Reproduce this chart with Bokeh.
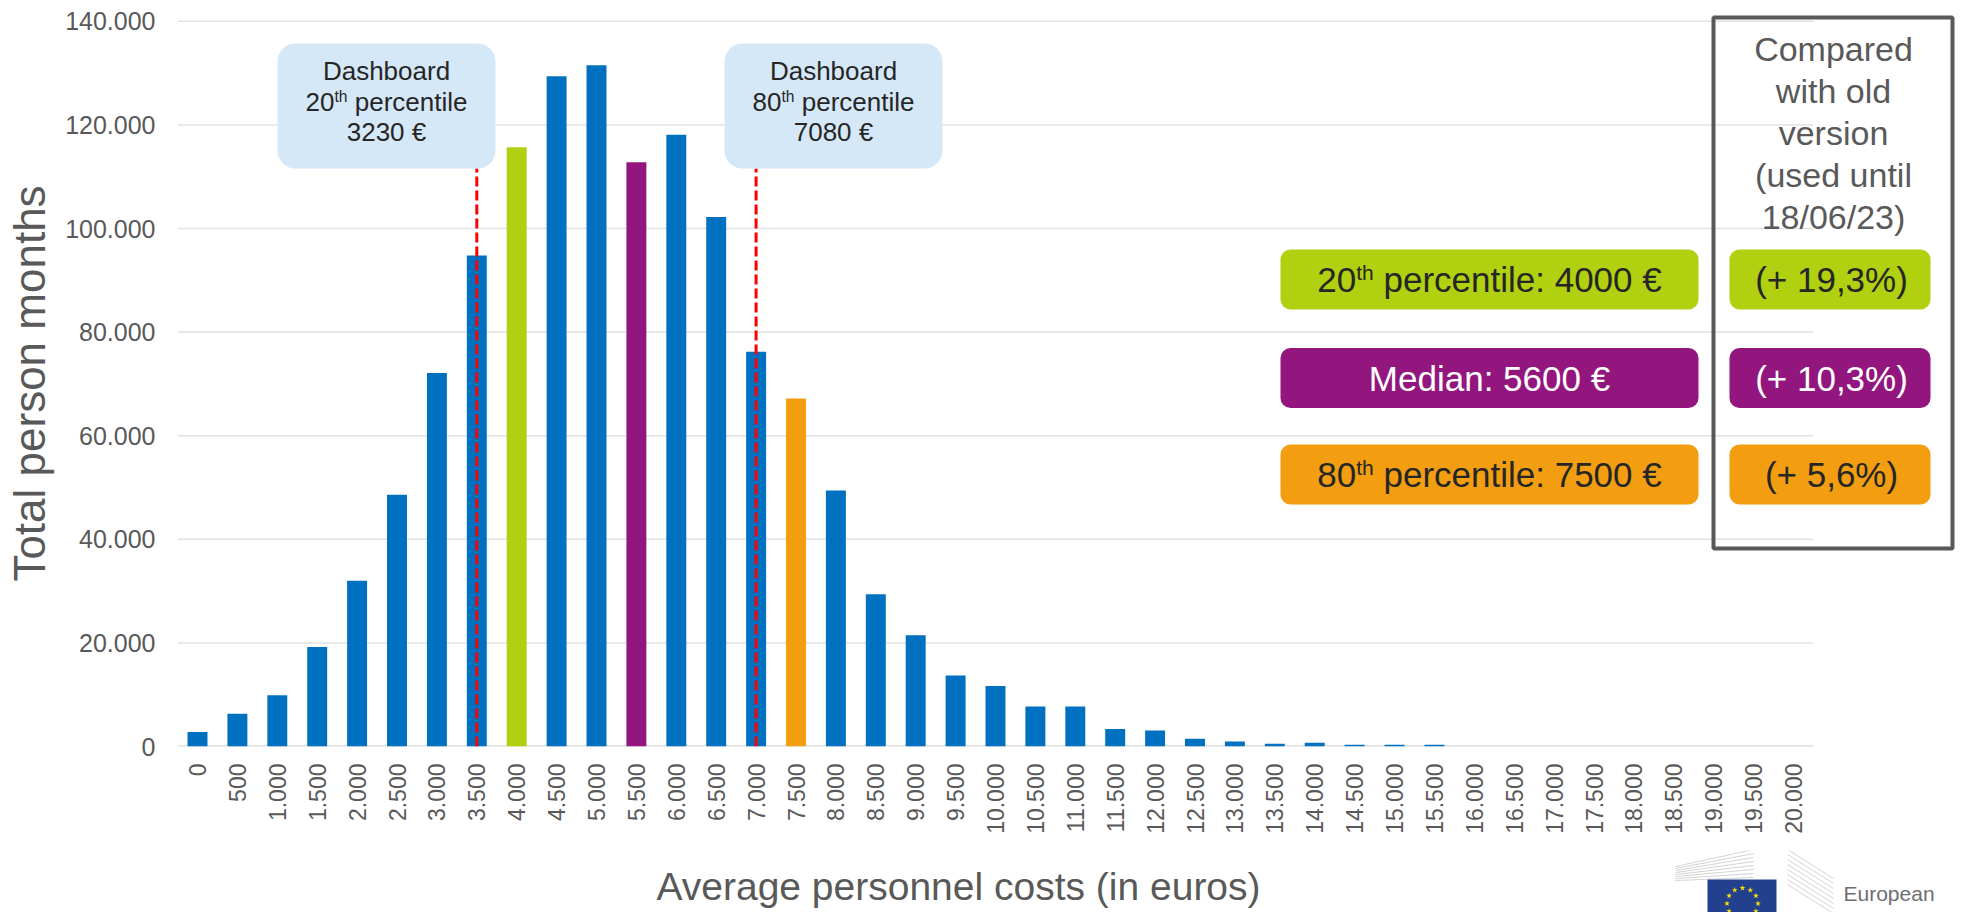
import math
from bokeh.plotting import figure
from bokeh.models import FixedTicker, Label, BoxAnnotation, Range1d
from bokeh.layouts import column
from bokeh.core.properties import value
from bokeh.embed import file_html
from bokeh.resources import INLINE

# ---------------- data ----------------
cost_labels = ["0", "500", "1.000", "1.500", "2.000", "2.500", "3.000", "3.500", "4.000",
               "4.500", "5.000", "5.500", "6.000", "6.500", "7.000", "7.500", "8.000",
               "8.500", "9.000", "9.500", "10.000", "10.500", "11.000", "11.500", "12.000",
               "12.500", "13.000", "13.500", "14.000", "14.500", "15.000", "15.500", "16.000",
               "16.500", "17.000", "17.500", "18.000", "18.500", "19.000", "19.500", "20.000"]
person_months = [2800, 6300, 9900, 19200, 32000, 48600, 72100, 94800, 115700,
                 129400, 131500, 112800, 118100, 102200, 76200, 67200, 49400,
                 29400, 21500, 13700, 11700, 7700, 7700, 3400, 3100,
                 1500, 950, 550, 700, 350, 350, 350, 0,
                 0, 0, 0, 0, 0, 0, 0, 0]
highlight_cats = ["4.000", "5.500", "7.500"]
highlight_colors = ["#B0D010", "#92167D", "#F29E10"]
base_color = "#0070C0"
y_ticks = [0, 20000, 40000, 60000, 80000, 100000, 120000, 140000]
y_tick_labels = ["0", "20.000", "40.000", "60.000", "80.000", "100.000", "120.000", "140.000"]
dashboard_cats = ["3.500", "7.000"]
dashboard_pct = ["20", "80"]
dashboard_vals = ["3230 €", "7080 €"]
new_rows = [("20", "th", " percentile: 4000 €"), ("", "", "Median: 5600 €"), ("80", "th", " percentile: 7500 €")]
row_colors = ["#B0D010", "#92167D", "#F29E10"]
row_text_colors = ["#262626", "#FFFFFF", "#262626"]
changes = ["(+ 19,3%)", "(+ 10,3%)", "(+ 5,6%)"]
compare_lines = ["Compared", "with old", "version", "(used until", "18/06/23)"]
x_title = "Average personnel costs (in euros)"
y_title = "Total person months"

# ---------------- geometry (page pixel layout) ----------------
FONT = "Liberation Sans"
GRAY = "#595959"
W = 1960
H_MAIN = 850
H_STRIP = 62
LEFT = 177        # px of frame left edge
CAT0 = 197.0      # px of first category centre
CW = 39.9         # px per category
BASE = 746.0      # px of y = 0
PXU = 103.6 / 20000.0


def X(px):
    return (px - CAT0) / CW


def Y(py):
    return (BASE - py) / PXU


p = figure(width=W, height=H_MAIN, output_backend="svg", toolbar_location=None,
           x_range=Range1d(X(LEFT), X(W)), y_range=Range1d(0, Y(10)),
           min_border_left=LEFT, min_border_right=0, min_border_top=10,
           min_border_bottom=H_MAIN - int(BASE))
p.outline_line_color = None
p.background_fill_color = "white"
p.border_fill_color = "white"
p.xgrid.visible = False
p.ygrid.visible = False

idx = list(range(len(cost_labels)))

# grid lines and baseline
p.segment(x0=[-0.5] * (len(y_ticks) - 1), x1=[len(idx) - 0.5] * (len(y_ticks) - 1),
          y0=y_ticks[1:], y1=y_ticks[1:], line_color="#E2E2E2", line_width=1.5)
p.segment(x0=[-0.5], x1=[len(idx) - 0.5], y0=[0], y1=[0], line_color="#D9D9D9", line_width=2.5)

colors = []
for lab in cost_labels:
    if lab in highlight_cats:
        colors.append(highlight_colors[highlight_cats.index(lab)])
    else:
        colors.append(base_color)
p.vbar(x=idx, top=person_months, width=0.5, fill_color=colors, line_color=None)

# axes
p.xaxis.ticker = FixedTicker(ticks=idx)
p.xaxis.major_label_overrides = {i: lab for i, lab in zip(idx, cost_labels)}
p.xaxis.major_label_orientation = math.pi / 2
p.xaxis.major_label_standoff = 17
p.xaxis.major_label_text_font = FONT
p.xaxis.major_label_text_font_size = "23px"
p.xaxis.major_label_text_color = GRAY
p.yaxis.ticker = FixedTicker(ticks=y_ticks)
p.yaxis.major_label_overrides = {t: l for t, l in zip(y_ticks, y_tick_labels)}
p.yaxis.major_label_standoff = 22
p.yaxis.major_label_text_font = FONT
p.yaxis.major_label_text_font_size = "25px"
p.yaxis.major_label_text_color = GRAY
for ax in (p.xaxis, p.yaxis):
    ax.axis_line_color = None
    ax.major_tick_line_color = None
    ax.minor_tick_line_color = None
    ax.major_tick_out = 0
    ax.major_tick_in = 0

# ---------------- text helpers ----------------
AW = {' ': 278, '.': 278, ',': 278, ':': 278, '(': 333, ')': 333, '+': 584, '%': 889,
      '€': 556, '/': 278, 'a': 556, 'b': 556, 'c': 500, 'd': 556, 'e': 556, 'h': 556,
      'i': 222, 'l': 222, 'n': 556, 'o': 556, 'p': 556, 'r': 333, 's': 500, 't': 278,
      'u': 556, 'w': 722, 'v': 500, 'm': 833, 'M': 833, 'D': 722, 'C': 722}


def tw(s, size):
    return sum(AW.get(ch, 556) for ch in s) / 1000.0 * size


def label(px, py, text, size, color, align="center", angle=0.0, place=None):
    lab = Label(x=X(px), y=Y(py), text=text, text_font=FONT,
                text_font_size=f"{size:.1f}px", text_color=color,
                text_align=align, text_baseline="middle", angle=angle)
    if place is None:
        p.add_layout(lab)
    else:
        p.add_layout(lab, place)


def rich(cx, cy, segs, size, color):
    """cy = vertical centre of the capitals of the main text"""
    sup = size * 0.6
    segs = [s for s in segs if s[0]]
    widths = [tw(t, sup if is_sup else size) for t, is_sup in segs]
    x = cx - sum(widths) / 2.0
    for (t, is_sup), w in zip(segs, widths):
        sz = sup if is_sup else size
        lead = len(t) - len(t.lstrip(' '))
        label(x + tw(' ' * lead, sz), cy - (0.21 * size if is_sup else 0), t.lstrip(' '), sz, color, align="left")
        x += w


# ---------------- dashboard callouts ----------------
callout_left = [277, 724]
for k in range(2):
    l = callout_left[k]
    r = l + 218
    cx = (l + r) / 2.0
    ci = cost_labels.index(dashboard_cats[k])
    p.segment(x0=[ci], x1=[ci], y0=[0], y1=[Y(168)], line_color="#FF0000", line_width=3, line_dash="10 4")
    p.add_layout(BoxAnnotation(left=X(l), right=X(r), top=Y(43), bottom=Y(168),
                               fill_color="#D5E8F7", fill_alpha=1.0, line_color=None, border_radius=18))
    label(cx, 70, "Dashboard", 26, "#262626")
    rich(cx, 101, [(dashboard_pct[k], False), ("th", True), (" percentile", False)], 26, "#262626")
    label(cx, 131, dashboard_vals[k], 26, "#262626")

# ---------------- comparison panel ----------------
p.add_layout(BoxAnnotation(left=X(1713), right=X(1952), top=Y(17), bottom=Y(548),
                           fill_alpha=0.0, line_color=GRAY, line_alpha=1.0, line_width=4))
for j, line in enumerate(compare_lines):
    label(1833, 48 + 42 * j, line, 34, GRAY)

row_centres = [279, 377.5, 474]
for j in range(3):
    cy = row_centres[j]
    p.add_layout(BoxAnnotation(left=X(1280), right=X(1698), top=Y(cy - 30), bottom=Y(cy + 30),
                               fill_color=row_colors[j], fill_alpha=1.0, line_color=None, border_radius=10))
    p.add_layout(BoxAnnotation(left=X(1729), right=X(1930), top=Y(cy - 30), bottom=Y(cy + 30),
                               fill_color=row_colors[j], fill_alpha=1.0, line_color=None, border_radius=10))
    a, b, c = new_rows[j]
    rich(1489, cy, [(a, False), (b, True), (c, False)], 35, row_text_colors[j])
    label(1831, cy, changes[j], 35, row_text_colors[j])

# y-axis title (rotated, in the left side panel)
label(29, 383, y_title, 44, GRAY, angle=math.pi / 2, place="left")

# ---------------- bottom strip: x-axis title and EU logo ----------------
# (its frame is aligned with the main frame: LEFT .. W)
s = figure(width=W, height=H_STRIP, output_backend="svg", toolbar_location=None,
           x_range=Range1d(LEFT, W), y_range=Range1d(H_MAIN + H_STRIP, H_MAIN),
           x_axis_type=None, y_axis_type=None,
           min_border_left=LEFT, min_border_right=0, min_border_top=0, min_border_bottom=0)
s.outline_line_color = None
s.xgrid.visible = False
s.ygrid.visible = False
s.background_fill_color = "white"
s.border_fill_color = "white"

s.text(x=[958], y=[886], text=[x_title], text_font=value(FONT), text_font_size=value("39px"),
       text_color=GRAY, text_align="center", text_baseline="middle")

# building outline (stylised light-grey strokes)
n = 8
bx0 = [1675] * n + [1787] * n
by0 = [866 + 2 * i for i in range(n)] + [849 + 5 * i for i in range(n)]
bx1 = [1753] * n + [1833] * n
by1 = [849 + 4 * i for i in range(n)] + [878 + 5 * i for i in range(n)]
s.segment(x0=bx0, y0=by0, x1=bx1, y1=by1, line_color="#D3D3D3", line_width=1.0)

s.quad(left=[1707], right=[1776], top=[879], bottom=[915], fill_color="#23408F", line_color=None)
star_x = [1742 + 15.5 * math.sin(2 * math.pi * k / 12) for k in range(12)]
star_y = [903 - 15.5 * math.cos(2 * math.pi * k / 12) for k in range(12)]
s.scatter(x=star_x, y=star_y, marker="star", size=6, fill_color="#FFE100", line_color=None)
s.text(x=[1843], y=[893], text=["European"], text_font=value(FONT), text_font_size=value("21px"),
       text_color="#6D6E71", text_align="left", text_baseline="middle")

layout = column(p, s, spacing=0)
open("out.html", "w").write(file_html(layout, INLINE))
